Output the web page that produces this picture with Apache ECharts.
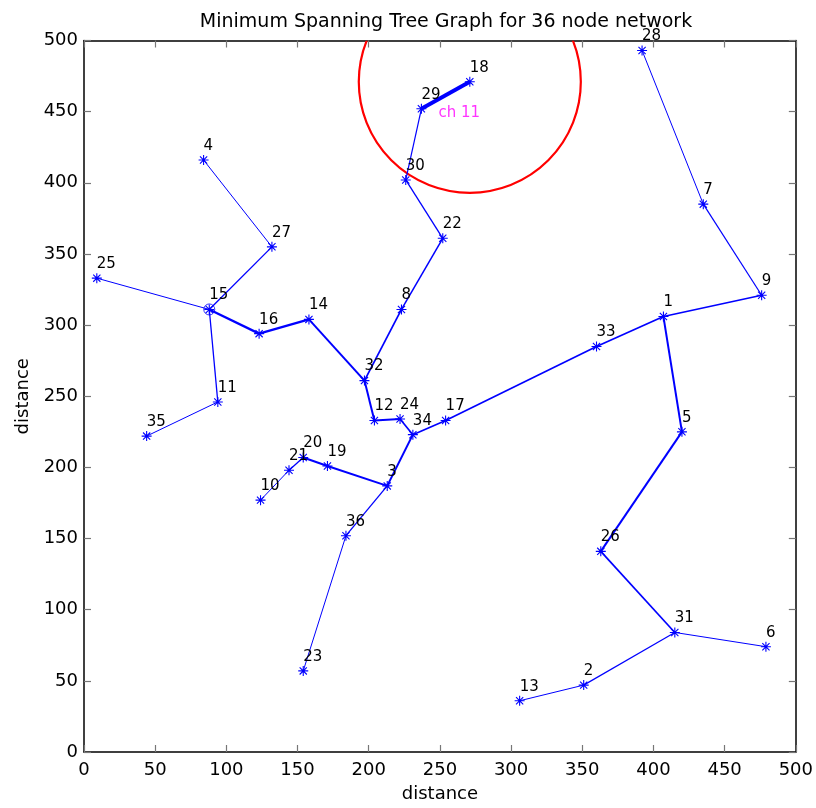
<!DOCTYPE html>
<html>
<head>
<meta charset="utf-8">
<script src="https://cdn.jsdelivr.net/npm/echarts@6/dist/echarts.min.js"></script>
<style>html,body{margin:0;padding:0;background:#fff}#c{width:816px;height:808px}</style>
</head>
<body>
<div id="c"></div>
<script>
// Node ids 1..36 and their coordinates
const nodeIds = [1,2,3,4,5,6,7,8,9,10,11,12,13,14,15,16,17,18,19,20,21,22,23,24,25,26,27,28,29,30,31,32,33,34,35,36];
const nodeX = [407,351,213,84,420,479,435,223,476,124,94,204,306,158,88,123,254,271,171,154,144,252,154,222,9,363,132,392,237,226,415,197,360,231,44,184];
const nodeY = [306,47,187,416,225,74,385,311,321,177,246,233,36,304,311,294,233,471,201,207,198,361,57,234,333,141,355,493,452,402,84,261,285,223,222,152];
// Spanning tree edges (from node, to node)
const edgeFrom = [28,7,9,1,33,17,1,5,26,31,31,2,34,24,12,32,14,16,15,15,27,15,11,32,8,22,30,29,34,3,19,20,21,3,36];
const edgeTo   = [7,9,1,33,17,34,5,26,31,6,2,13,24,12,32,14,16,15,25,27,4,11,35,8,22,30,29,18,3,19,20,21,10,36,23];
// Special nodes
const baseNode = 15;
const clusterHead = 29;
const clusterLabel = 'ch 11';
const rangeCenterNode = 18;
const rangeRadius = [78];
// Axis ticks
const xTicks = [0,50,100,150,200,250,300,350,400,450,500];
const yTicks = [0,50,100,150,200,250,300,350,400,450,500];

// style only: line widths per edge (same order as edges)
const edgeWidthStyle = [1,1.2,1.5,1.7,1.7,1.7,2,2,1.7,1,1.2,1,1.7,2,2,2,2.3,2.3,1,1.3,1,1.3,1,1.7,1.5,1.3,1.2,4,2,2,2,1.3,1,1.3,1];

const BLUE = '#0000ff';
const FONT = 'DejaVu Sans';
const pt = id => [nodeX[id-1], nodeY[id-1]];

const lineData = edgeFrom.map((f,i)=>({
  coords:[pt(f), pt(edgeTo[i])],
  lineStyle:{width:edgeWidthStyle[i]}
}));
const nodeData = nodeIds.map((id,i)=>({value:[nodeX[i],nodeY[i]], name:String(id)}));

const star = 'path://M0,-5L0,5M-5,0L5,0M-3.6,-3.6L3.6,3.6M-3.6,3.6L3.6,-3.6';

const chart = echarts.init(document.getElementById('c'), null, {renderer:'canvas'});
const axisCommon = {
  type:'value', min:xTicks[0], max:xTicks[xTicks.length-1], interval:xTicks[1]-xTicks[0],
  splitLine:{show:false},
  axisLine:{show:true, onZero:false, lineStyle:{color:'#000', width:1.5}},
  axisTick:{show:true, inside:true, length:7, lineStyle:{color:'#777', width:1.2}},
};
chart.setOption({
  animation:false,
  backgroundColor:'#fff',
  title:{
    text:'Minimum Spanning Tree Graph for 36 node network',
    left:441, top:8, textAlign:'center',
    textStyle:{fontFamily:FONT, fontSize:19, fontWeight:'normal', color:'#000'}
  },
  grid:{left:84, right:20, top:40.5, bottom:55.5, containLabel:false},
  xAxis:[
    Object.assign({}, axisCommon, {
      position:'bottom', name:'distance', nameLocation:'middle', nameGap:33,
      nameTextStyle:{fontFamily:FONT, fontSize:18, color:'#000'},
      axisLabel:{fontFamily:FONT, fontSize:18, color:'#000', margin:9}
    }),
    Object.assign({}, axisCommon, {position:'top', axisLabel:{show:false}})
  ],
  yAxis:[
    Object.assign({}, axisCommon, {
      min:yTicks[0], max:yTicks[yTicks.length-1], interval:yTicks[1]-yTicks[0],
      position:'left', name:'distance', nameLocation:'middle', nameGap:50,
      nameTextStyle:{fontFamily:FONT, fontSize:18, color:'#000'},
      axisLabel:{fontFamily:FONT, fontSize:18, color:'#000', margin:6}
    }),
    Object.assign({}, axisCommon, {
      min:yTicks[0], max:yTicks[yTicks.length-1], interval:yTicks[1]-yTicks[0],
      position:'right', axisLabel:{show:false}
    })
  ],
  series:[
    {
      type:'custom', xAxisIndex:0, yAxisIndex:0, clip:true, z:1,
      data:[[...pt(rangeCenterNode), rangeRadius[0]]],
      renderItem:function(params, api){
        const c = api.coord([api.value(0), api.value(1)]);
        const s = api.size([api.value(2), api.value(2)]);
        const cs = params.coordSys;
        return {
          type:'group',
          children:[{
            type:'circle',
            shape:{cx:c[0], cy:c[1], r:(s[0]+s[1])/2},
            style:{fill:null, stroke:'#ff0000', lineWidth:2.2}
          }],
          clipPath:{type:'rect', shape:{x:cs.x, y:cs.y, width:cs.width, height:cs.height}}
        };
      }
    },
    {
      type:'lines', coordinateSystem:'cartesian2d', xAxisIndex:0, yAxisIndex:0, z:2,
      polyline:false, silent:true,
      lineStyle:{color:BLUE, opacity:1, curveness:0},
      data:lineData
    },
    {
      type:'scatter', xAxisIndex:0, yAxisIndex:0, z:3,
      symbol:star, symbolSize:10, symbolKeepAspect:true,
      itemStyle:{color:BLUE, borderColor:BLUE, borderWidth:1.1, opacity:1},
      label:{
        show:true, position:'inside', align:'left', verticalAlign:'middle',
        offset:[0,-14], formatter:p=>p.name,
        fontFamily:FONT, fontSize:15, color:'#000'
      },
      data:nodeData
    },
    {
      type:'scatter', xAxisIndex:0, yAxisIndex:0, z:4,
      symbol:'circle', symbolSize:11,
      itemStyle:{color:'rgba(0,0,0,0)', borderColor:BLUE, borderWidth:1},
      data:[pt(baseNode)]
    },
    {
      type:'scatter', xAxisIndex:0, yAxisIndex:0, z:4,
      symbolSize:0,
      label:{
        show:true, position:'inside', align:'left', verticalAlign:'middle',
        offset:[17,4], formatter:clusterLabel,
        fontFamily:FONT, fontSize:15, color:'#ff00ff'
      },
      data:[pt(clusterHead)]
    }
  ]
});
</script>
</body>
</html>
